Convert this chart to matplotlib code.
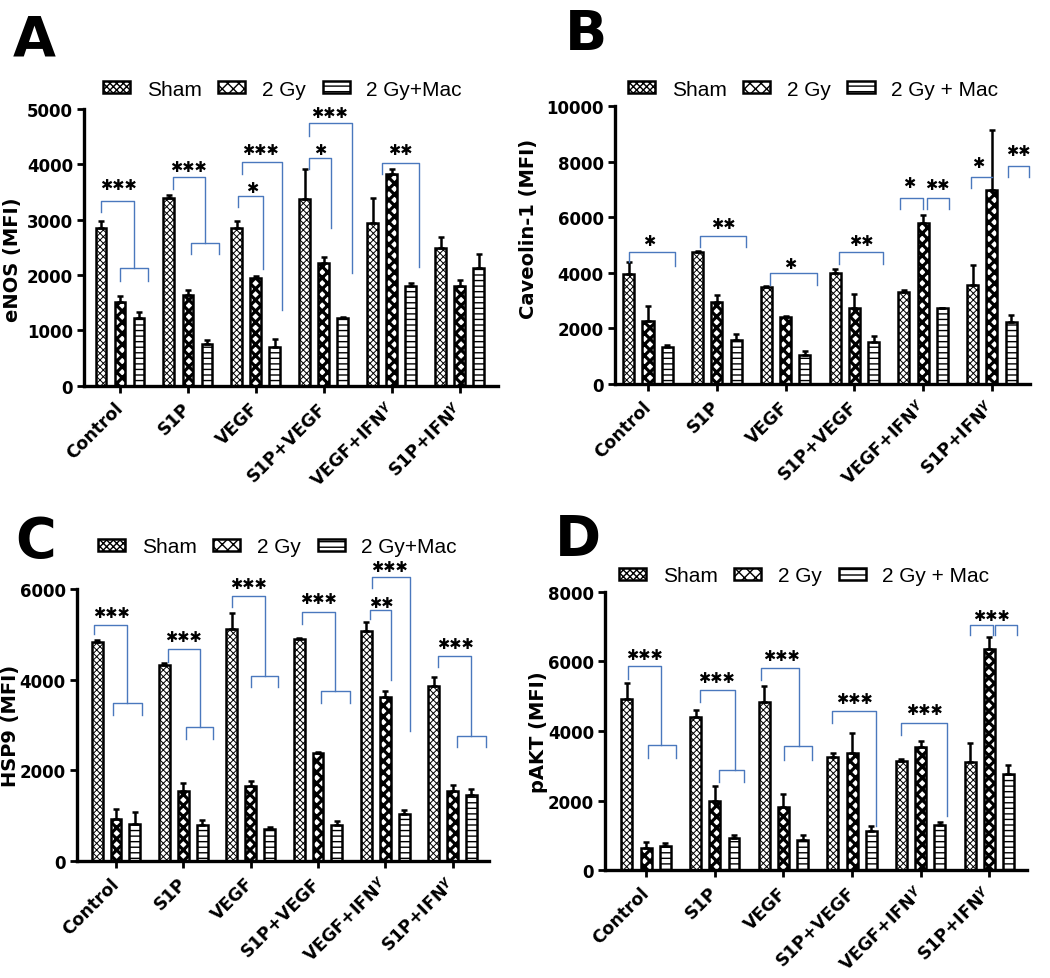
import matplotlib
matplotlib.use("Agg")
import matplotlib.pyplot as plt
from matplotlib.patches import Patch
import numpy as np

GROUPS = ["Control", "S1P", "VEGF", "S1P+VEGF", r"VEGF+IFN$^{\gamma}$", r"S1P+IFN$^{\gamma}$"]

# panel A - eNOS
ENOS_SHAM = [2850, 3390, 2850, 3370, 2940, 2480]
ENOS_SHAM_ERR = [135, 60, 135, 555, 450, 205]
ENOS_2GY = [1520, 1645, 1950, 2210, 3830, 1805]
ENOS_2GY_ERR = [110, 90, 25, 115, 85, 105]
ENOS_MAC = [1215, 755, 705, 1215, 1805, 2135]
ENOS_MAC_ERR = [110, 80, 140, 20, 50, 245]

# panel B - Caveolin-1
CAV_SHAM = [3960, 4765, 3480, 4000, 3325, 3575]
CAV_SHAM_ERR = [445, 35, 35, 120, 70, 710]
CAV_2GY = [2280, 2940, 2400, 2725, 5785, 6965]
CAV_2GY_ERR = [515, 265, 35, 515, 300, 2160]
CAV_MAC = [1345, 1600, 1045, 1500, 2725, 2245]
CAV_MAC_ERR = [60, 200, 155, 215, 25, 240]

# panel C - HSP9
HSP_SHAM = [4840, 4330, 5115, 4895, 5080, 3870]
HSP_SHAM_ERR = [45, 30, 355, 15, 185, 185]
HSP_2GY = [920, 1535, 1665, 2385, 3610, 1555]
HSP_2GY_ERR = [235, 185, 90, 15, 150, 125]
HSP_MAC = [820, 785, 710, 785, 1045, 1460]
HSP_MAC_ERR = [260, 110, 40, 95, 70, 120]

# panel D - pAKT
AKT_SHAM = [4930, 4400, 4830, 3245, 3150, 3105]
AKT_SHAM_ERR = [460, 210, 465, 115, 50, 555]
AKT_2GY = [625, 2000, 1825, 3370, 3535, 6370]
AKT_2GY_ERR = [170, 430, 365, 570, 175, 335]
AKT_MAC = [700, 915, 875, 1135, 1305, 2765]
AKT_MAC_ERR = [80, 95, 135, 145, 90, 260]

# significance brackets:
# (group, x_left, x_right, y, y_left_end, y_right_end, stars, star_x, star_y, lower bracket)
BRACKETS_A = [
    (0, -0.28, 0.21, 3340, 3145, 2135, "***", -0.03, 3660, (0.0, 0.41, 1900)),
    (1, -0.225, 0.255, 3765, 3555, 2570, "***", 0.01, 3995, (0.05, 0.46, 2380)),
    (2, -0.27, 0.10, 3436, 3230, 2110, "*", -0.05, 3605, None),
    (2, -0.20, 0.38, 4045, 3828, 1360, "***", 0.07, 4293, None),
    (3, -0.22, 0.10, 4112, 3918, 2846, "*", -0.06, 4293, None),
    (3, -0.22, 0.41, 4750, 4521, 2032, "***", 0.08, 4973, None),
    (4, -0.15, 0.40, 4021, 3828, 2141, "**", 0.12, 4293, None),
]
BRACKETS_B = [
    (0, -0.28, 0.39, 4766, 4382, 4262, "*", 0.01, 5222, None),
    (1, -0.24, 0.43, 5342, 4922, 4922, "**", 0.10, 5822, None),
    (2, -0.23, 0.45, 3986, 3577, 3577, "*", 0.07, 4406, None),
    (3, -0.23, 0.42, 4766, 4322, 4322, "**", 0.10, 5222, None),
    (4, -0.33, 0.0, 6699, 6279, 6279, "*", -0.2, 7287, None),
    (4, 0.05, 0.37, 6699, 6279, 6279, "**", 0.2, 7227, None),
    (5, -0.31, 0.0, 7443, 7047, 7443, "*", -0.2, 8019, None),
    (5, 0.23, 0.54, 7839, 7443, 7443, "**", 0.39, 8440, None),
]
BRACKETS_C = [
    (0, -0.32, 0.17, 5213, 5007, 3480, "***", -0.07, 5521, (-0.04, 0.38, 3223)),
    (1, -0.23, 0.25, 4677, 4383, 2952, "***", 0.0, 4985, (0.04, 0.44, 2695)),
    (2, -0.28, 0.21, 5837, 5595, 4090, "***", -0.04, 6145, (0.0, 0.41, 3833)),
    (3, -0.23, 0.25, 5499, 5228, 3759, "***", 0.01, 5815, (0.05, 0.47, 3487)),
    (4, -0.23, 0.09, 5543, 5338, 3986, "**", -0.06, 5742, None),
    (4, -0.20, 0.37, 6255, 6020, 2878, "***", 0.06, 6540, None),
    (5, -0.21, 0.28, 4516, 4273, 2768, "***", 0.04, 4824, (0.07, 0.49, 2511)),
]
BRACKETS_D = [
    (0, -0.26, 0.21, 5860, 5504, 3583, "***", -0.03, 6254, (0.02, 0.43, 3218)),
    (1, -0.22, 0.29, 5168, 4832, 2891, "***", 0.03, 5572, (0.06, 0.43, 2526)),
    (2, -0.32, 0.22, 5812, 5476, 3554, "***", -0.03, 6225, (0.01, 0.41, 3170)),
    (3, -0.29, 0.35, 4573, 4227, 1278, "***", 0.03, 4976, None),
    (4, -0.28, 0.39, 4227, 3890, 1566, "***", 0.05, 4659, None),
    (5, -0.28, 0.06, 7041, 6753, 6753, "***", 0.03, 7377, None),
    (5, 0.08, 0.41, 7041, 6753, 6753, "", 0.0, 0, None),
]

BAR_OFFSETS = [-0.28, 0.0, 0.28]
BAR_WIDTH = 0.16
HATCHES = ["xxxxx", "xxx", "---"]
HATCH_LW = [0.7, 2.3, 1.0]
BRACKET_COLOR = "#4a78bd"
STAR = "\u2731"

plt.rcParams["font.family"] = "DejaVu Sans"
plt.rcParams["font.weight"] = "bold"


def draw_bracket(ax, g, xl, xr, y, yl, yr, stars, sx, sy, lower):
    x0, x1 = g + xl, g + xr
    ax.plot([x0, x0, x1, x1], [yl, y, y, yr], color=BRACKET_COLOR, lw=1.0, clip_on=False, zorder=4)
    if lower is not None:
        lx0, lx1, ly = g + lower[0], g + lower[1], lower[2]
        ax.plot([lx0, lx0, lx1, lx1], [ly, yr, yr, ly], color=BRACKET_COLOR, lw=1.0, clip_on=False, zorder=4)
    if stars:
        ax.annotate(STAR * len(stars), (g + sx, sy), xytext=(0, 0), textcoords="offset points",
                    ha="center", va="center_baseline", fontsize=10.5,
                    annotation_clip=False)


def draw_panel(fig, rect, xlim, series, ymax, ystep, ylabel, label_pos, brackets, mac_label, legend_pos):
    ax = fig.add_axes(rect)
    x = np.arange(len(GROUPS))
    for i, (means, errs) in enumerate(series):
        lower_err = np.zeros(len(means))
        with plt.rc_context({"hatch.linewidth": HATCH_LW[i]}):
            ax.bar(x + BAR_OFFSETS[i], means, BAR_WIDTH, yerr=[lower_err, errs],
                   facecolor="white", edgecolor="black", linewidth=1.8, hatch=HATCHES[i],
                   capsize=2.5, error_kw=dict(elinewidth=1.8, capthick=1.8, ecolor="black"),
                   zorder=2)

    for b in brackets:
        draw_bracket(ax, *b)

    ax.set_xlim(*xlim)
    ax.set_ylim(0, ymax)
    ax.set_yticks(np.arange(0, ymax + 1, ystep))
    ax.set_xticks(x)
    ax.set_xticklabels(GROUPS, rotation=45, ha="right", va="center", rotation_mode="anchor", fontsize=12.5)
    ax.tick_params(axis="x", length=5, width=2, pad=9)
    ax.tick_params(axis="y", length=5, width=2, pad=3, labelsize=12)
    for side in ["top", "right"]:
        ax.spines[side].set_visible(False)
    for side in ["left", "bottom"]:
        ax.spines[side].set_linewidth(2.4)

    ax.set_ylabel(ylabel, fontsize=14, fontweight="bold")
    ax.yaxis.set_label_coords(*label_pos)

    handles = []
    for i, name in enumerate(["Sham", "2 Gy", mac_label]):
        with plt.rc_context({"hatch.linewidth": HATCH_LW[i]}):
            handles.append(Patch(facecolor="white", edgecolor="black", linewidth=1.8,
                                 hatch=HATCHES[i], label=name))
    ax.legend(handles=handles, loc="center left", bbox_to_anchor=legend_pos, ncol=3,
              frameon=False, borderpad=0, borderaxespad=0, handlelength=1.3,
              handleheight=0.5, handletextpad=0.8, columnspacing=0.8,
              prop={"family": "Liberation Sans", "size": 15, "weight": "normal"})
    return ax


fig = plt.figure(figsize=(10.5, 9.79), dpi=100)

draw_panel(fig, [0.080, 0.6050, 0.394, 0.2826], (-0.53, 5.56),
           [(ENOS_SHAM, ENOS_SHAM_ERR), (ENOS_2GY, ENOS_2GY_ERR), (ENOS_MAC, ENOS_MAC_ERR)],
           5000, 1000, "eNOS (MFI)", (-0.15, 0.46), BRACKETS_A, "2 Gy+Mac", (0.046, 1.072))
draw_panel(fig, [0.5857, 0.6067, 0.395, 0.2840], (-0.48, 5.55),
           [(CAV_SHAM, CAV_SHAM_ERR), (CAV_2GY, CAV_2GY_ERR), (CAV_MAC, CAV_MAC_ERR)],
           10000, 2000, "Caveolin-1 (MFI)", (-0.186, 0.56), BRACKETS_B, "2 Gy + Mac", (0.031, 1.061))
draw_panel(fig, [0.0733, 0.1195, 0.3924, 0.2778], (-0.58, 5.54),
           [(HSP_SHAM, HSP_SHAM_ERR), (HSP_2GY, HSP_2GY_ERR), (HSP_MAC, HSP_MAC_ERR)],
           6000, 2000, "HSP9 (MFI)", (-0.138, 0.5), BRACKETS_C, "2 Gy+Mac", (0.051, 1.155))
draw_panel(fig, [0.5762, 0.1103, 0.4019, 0.2840], (-0.6, 5.55),
           [(AKT_SHAM, AKT_SHAM_ERR), (AKT_2GY, AKT_2GY_ERR), (AKT_MAC, AKT_MAC_ERR)],
           8000, 2000, "pAKT (MFI)", (-0.135, 0.5), BRACKETS_D, "2 Gy + Mac", (0.033, 1.058))

H = 979.0
for letter, px, py in [("A", 13, 55), ("B", 565, 50), ("C", 15, 557), ("D", 555, 555)]:
    fig.text(px / 1050.0, 1 - py / H, letter, fontsize=40, fontweight="heavy", va="baseline", ha="left")

fig.savefig("out.png", dpi=100)
